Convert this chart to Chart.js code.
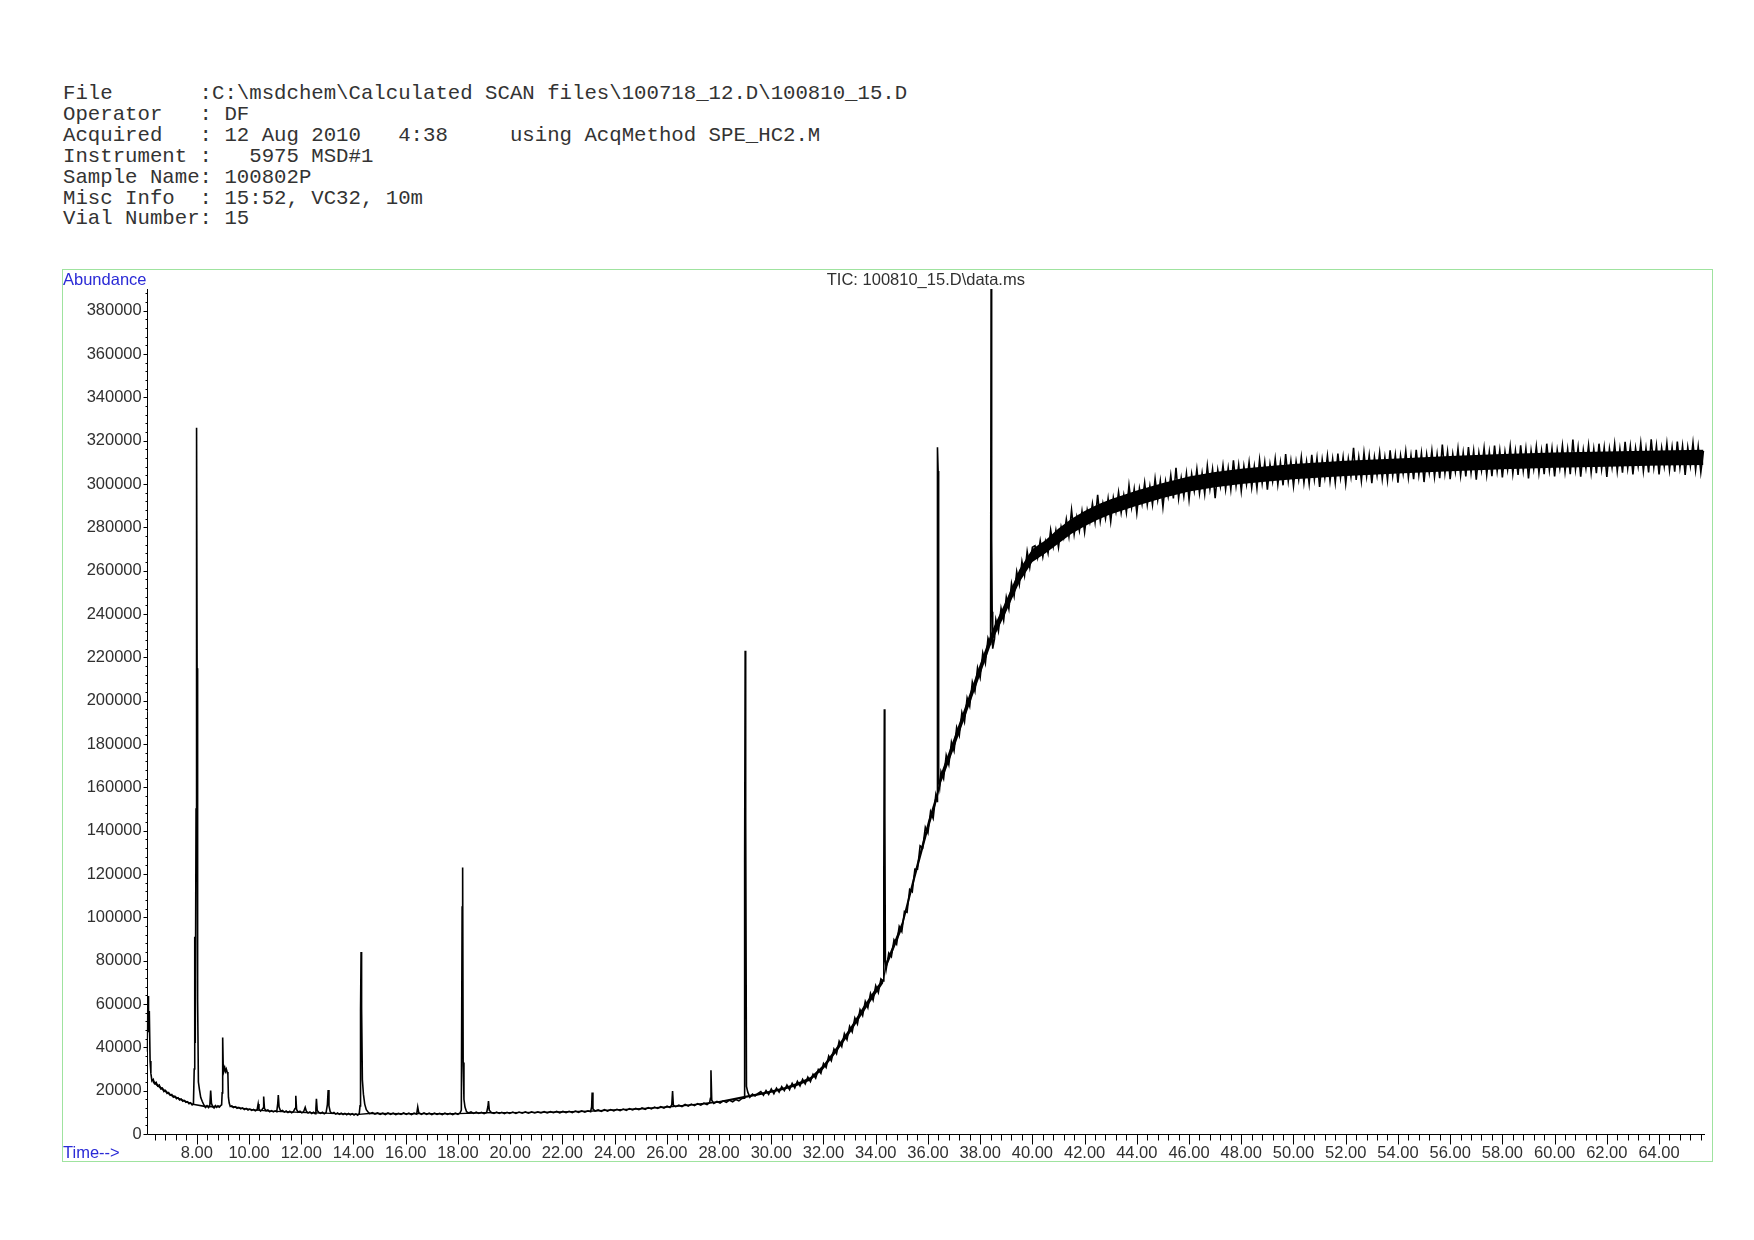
<!DOCTYPE html>
<html>
<head>
<meta charset="utf-8">
<title>TIC: 100810_15.D\data.ms</title>
<script src="https://cdn.jsdelivr.net/npm/chart.js@4.4.0/dist/chart.umd.min.js"></script>
<style>
  html, body { margin: 0; padding: 0; background: #fff; }
  body { width: 1754px; height: 1240px; position: relative; overflow: hidden; }
  #header {
    position: absolute; left: 63px; top: 84px; margin: 0;
    font-family: "Liberation Mono", "DejaVu Sans Mono", monospace;
    font-size: 20.7px; line-height: 20.9px; color: #333; white-space: pre;
  }
  #wrap { position: absolute; left: 0; top: 0; width: 1754px; height: 1240px; }
</style>
</head>
<body>
<pre id="header">File       :C:\msdchem\Calculated SCAN files\100718_12.D\100810_15.D
Operator   : DF
Acquired   : 12 Aug 2010   4:38     using AcqMethod SPE_HC2.M
Instrument :   5975 MSD#1
Sample Name: 100802P
Misc Info  : 15:52, VC32, 10m
Vial Number: 15</pre>
<div id="wrap"><canvas id="tic" width="1754" height="1240"></canvas></div>
<script>
// 軸の範囲と目盛り
const timeRange = [6.08, 65.76];
const abundanceRange = [0, 390000];
const timeTicks = [8, 10, 12, 14, 16, 18, 20, 22, 24, 26, 28, 30, 32, 34, 36, 38, 40, 42, 44, 46, 48, 50, 52, 54, 56, 58, 60, 62, 64];
const abundanceTicks = [0, 20000, 40000, 60000, 80000, 100000, 120000, 140000, 160000, 180000, 200000, 220000, 240000, 260000, 280000, 300000, 320000, 340000, 360000, 380000];

// TIC トレース [保持時間(min), アバンダンス] を読み取り値で
const earlyTrace = [
  [6.09,38000],[6.13,63700],[6.15,47000],[6.18,56800],[6.21,33700],[6.24,28000],[6.28,24500],[6.33,25200],[6.38,23300],[6.44,23900],
  [6.50,22100],[6.56,22600],[6.62,20800],[6.68,21200],[6.74,19600],[6.80,20100],[6.86,18700],[6.92,19100],[6.98,17900],[7.04,18200],
  [7.10,17000],[7.16,17400],[7.22,16300],[7.28,16700],[7.34,15700],[7.40,16100],[7.46,15100],[7.52,15500],[7.58,14600],[7.64,14900],
  [7.70,14000],[7.76,14400],[7.82,13400],[7.87,13800],[7.90,30000],[7.92,91000],[7.94,42000],[7.97,150000],[7.99,326000],[8.01,215000],
  [8.03,62000],[8.06,24000],[8.10,20500],[8.15,16800],[8.21,15000],[8.27,13400],[8.33,12300],[8.39,13100],[8.45,12200],[8.50,13500],
  [8.53,20100],[8.56,14200],[8.61,12600],[8.66,12000],[8.71,13100],[8.76,12300],[8.81,13000],[8.86,12400],[8.91,13100],[8.95,13500],
  [8.97,19000],[8.99,44500],[9.01,31500],[9.04,29200],[9.07,30600],[9.10,28900],[9.13,29900],[9.16,28600],[9.19,27400],[9.21,17000],
  [9.24,14300],[9.28,12700],[9.34,13000],[9.40,12200],[9.47,12600],[9.54,11900],[9.61,12300],[9.68,11600],[9.75,12000],[9.82,11300],
  [9.89,11800],[9.96,11100],[10.03,11500],[10.10,10900],[10.17,11300],[10.24,10700],[10.31,11200],[10.35,13900],[10.38,11400],[10.44,10600],
  [10.50,11300],[10.54,12000],[10.56,17300],[10.59,11800],[10.65,10700],[10.72,11100],[10.79,10300],[10.86,10800],[10.93,10200],[11.00,10700],
  [11.06,10300],[11.10,14200],[11.12,18000],[11.15,12400],[11.21,10500],[11.28,10900],[11.35,10100],[11.42,10600],[11.49,9900],[11.56,10500],
  [11.63,9800],[11.70,10300],[11.76,11800],[11.79,17600],[11.82,11300],[11.88,10100],[11.95,10500],[12.02,9800],[12.09,10300],[12.15,12300],
  [12.19,10600],[12.26,9700],[12.33,10200],[12.40,9500],[12.47,10000],[12.53,9400],[12.56,11800],[12.58,16300],[12.61,10900],[12.67,10000],
  [12.74,9500],[12.81,10000],[12.88,9300],[12.95,9900],[13.00,13500],[13.03,20300],[13.06,13000],[13.11,10200],[13.18,9500],[13.25,9900],
  [13.32,9200],[13.39,9700],[13.46,9100],[13.53,9600],[13.60,9000],[13.67,9500],[13.74,8900],[13.81,9500],[13.88,8900],[13.95,9400],
  [14.02,8800],[14.09,9300],[14.16,8700],[14.22,9400],[14.25,13000],[14.27,57000],[14.29,84000],[14.31,58300],[14.34,25000],[14.38,18400],
  [14.43,13800],[14.49,11200],[14.55,10300]
];

const midTrace = [
  [14.62,9400],[14.72,9900],[14.82,9200],[14.92,9700],[15.02,9100],[15.12,9600],[15.22,9000],[15.32,9700],[15.42,9100],[15.52,9600],
  [15.62,9000],[15.72,9500],[15.82,9100],[15.92,9700],[16.02,9100],[16.12,9600],[16.22,9000],[16.32,9600],[16.42,9200],[16.46,12500],
  [16.50,9800],[16.60,9100],[16.70,9700],[16.80,9100],[16.90,9600],[17.00,9000],[17.10,9600],[17.20,9100],[17.30,9500],[17.40,9000],
  [17.50,9600],[17.60,9100],[17.70,9500],[17.80,9000],[17.90,9600],[18.00,9100],[18.08,9700],[18.13,11000],[18.16,104800],[18.18,123000],
  [18.20,33000],[18.23,16000],[18.27,12400],[18.33,10300],[18.41,9700],[18.50,10200],[18.60,9500],[18.70,10100],[18.80,9500],[18.90,10000],
  [19.00,9400],[19.10,10000],[19.15,12800],[19.17,15200],[19.20,11000],[19.28,9900],[19.38,9500],[19.48,10100],[19.58,9500],[19.68,10000],
  [19.78,9400],[19.88,10000],[19.98,9500],[20.10,10100],[20.22,9500],[20.34,10100],[20.46,9600],[20.58,10200],[20.70,9600],[20.82,10200],
  [20.94,9700],[21.06,10200],[21.18,9700],[21.30,10300],[21.42,9700],[21.54,10300],[21.66,9800],[21.78,10400],[21.90,9800],[22.02,10400],
  [22.14,9900],[22.26,10500],[22.38,9900],[22.50,10600],[22.62,10000],[22.74,10700],[22.86,10100],[22.98,10700],[23.08,10300],[23.12,12500],
  [23.14,19100],[23.17,11600],[23.25,10600],[23.37,11100],[23.49,10500],[23.61,11200],[23.73,10600],[23.85,11300],[23.97,10700],[24.09,11400],
  [24.21,10800],[24.33,11500],[24.45,10900],[24.57,11700],[24.69,11100],[24.81,11800],[24.93,11200],[25.05,12000],[25.17,11400],[25.29,12200],
  [25.41,11600],[25.53,12400],[25.65,11800],[25.77,12600],[25.89,12000],[26.01,12800],[26.12,12200],[26.19,13500],[26.22,19800],[26.25,13300],
  [26.34,12600],[26.46,13300],[26.58,12700],[26.70,13600],[26.82,12900],[26.94,13800],[27.06,13100],[27.18,14000],[27.30,13300],[27.42,14200],
  [27.54,13600],[27.64,14500],[27.67,16500],[27.69,29400],[27.72,15600],[27.80,14100],[27.92,15000],[28.04,14300],[28.16,15300],[28.28,14600],
  [28.40,15600],[28.52,14900],[28.64,15900],[28.76,15300],[28.88,16400],[28.96,16500],[28.98,125500],[29.00,223000],[29.02,146000],[29.05,22000],
  [29.10,19300],[29.18,17000],[29.28,18400],[29.38,17500],[29.48,18600]
];

const riseTrace = [
  [29.6,19600],[29.7,17900],[29.8,20100],[29.9,18300],[30.0,20800],[30.1,18600],[30.2,21200],[30.3,19300],[30.4,21900],[30.5,20000],
  [30.6,22600],[30.7,20500],[30.8,23400],[30.9,21300],[31.0,24300],[31.1,22200],[31.2,25200],[31.3,23100],[31.4,26300],[31.5,24200],
  [31.6,27600],[31.7,25800],[31.8,29700],[31.9,28000],[32.0,32600],[32.1,30700],[32.2,36000],[32.3,33800],[32.4,39200],[32.5,37000],
  [32.6,42800],[32.7,40400],[32.8,46300],[32.9,43600],[33.0,49700],[33.1,47100],[33.2,53600],[33.3,50800],[33.4,57400],[33.5,54700],
  [33.6,61200],[33.7,58300],[33.8,64900],[33.9,61800],[34.0,68400],[34.1,65300],[34.2,71600],[34.28,70600],[34.31,120000],[34.33,196000],
  [34.35,147700],[34.37,80000],[34.4,76000],[34.5,83500],[34.6,81800],[34.7,89600],[34.8,87600],[34.9,95800],[35.0,93400],[35.1,102800],
  [35.2,102300],[35.3,112900],[35.4,111800],[35.5,122300],[35.6,122200],[35.7,133000],[35.8,132100],[35.9,141600],[36.0,138900],[36.1,148800],
  [36.2,145700],[36.3,156400],[36.35,153500],[36.36,160000],[36.37,317000],[36.39,306000],[36.41,163000],[36.45,159800],[36.5,167300],[36.6,164000],
  [36.7,174800],[36.8,170500],[36.9,180900],[37.0,176800],[37.1,187700],[37.2,183900],[37.3,194600],[37.4,190200],[37.5,201300],[37.6,197400],
  [37.7,208600],[37.8,204300],[37.9,215200],[38.0,210600],[38.1,222100],[38.2,217200],[38.3,228800],[38.38,226000],[38.40,232000],[38.42,400000],
  [38.44,274600],[38.46,241000],[38.48,224000],[38.55,228500],[38.6,237400],[38.7,232100],[38.8,242700],[38.9,237000],[39.0,247800],[39.1,242300],
  [39.2,254100],[39.3,248300],[39.4,259600],[39.5,253600],[39.6,264300],[39.7,257800],[39.8,268900],[39.9,261600],[40.0,270800]
];

const plateauTrace = [
  [40.1,271500],[40.2,266000],[40.3,273900],[40.4,266400],[40.5,273500],[40.6,268100],[40.7,278800],[40.8,271200],[40.9,278600],[41.0,270800],
  [41.1,280200],[41.2,275300],[41.3,283700],[41.4,275800],[41.5,288000],[41.6,276800],[41.7,284800],[41.8,278400],[41.9,287400],[42.0,277800],
  [42.1,288000],[42.2,282500],[42.3,290900],[42.4,282400],[42.5,295000],[42.6,282900],[42.7,291000],[42.8,284100],[42.9,293300],[43.0,282700],
  [43.1,293700],[43.2,287200],[43.3,296200],[43.4,286800],[43.5,294900],[43.6,286900],[43.7,299400],[43.8,289200],[43.9,297700],[44.0,286600],
  [44.1,297900],[44.2,290900],[44.3,300600],[44.4,290400],[44.5,299100],[44.6,290500],[44.7,302500],[44.8,292700],[44.9,301500],[45.0,289400],
  [45.1,301200],[45.2,294300],[45.3,304000],[45.4,293300],[45.5,307500],[45.6,293400],[45.7,302800],[45.8,294400],[45.9,304900],[46.0,292800],
  [46.1,304600],[46.2,296800],[46.3,306900],[46.4,295700],[46.5,305000],[46.6,295400],[46.7,308400],[46.8,297700],[46.9,306800],[47.0,293500],
  [47.1,306400],[47.2,298900],[47.3,308600],[47.4,297600],[47.5,307400],[47.6,297500],[47.7,310900],[47.8,299200],[47.9,308700],[48.0,296800],
  [48.1,308200],[48.2,299900],[48.3,310000],[48.4,298400],[48.5,308100],[48.6,298100],[48.7,311100],[48.8,300400],[48.9,310000],[49.0,297400],
  [49.1,309100],[49.2,301300],[49.3,311600],[49.4,299800],[49.5,310000],[49.6,299400],[49.7,313800],[49.8,301300],[49.9,310700],[50.0,299100],
  [50.1,310300],[50.2,302000],[50.3,312400],[50.4,300500],[50.5,310300],[50.6,300100],[50.7,313500],[50.8,302100],[50.9,312000],[51.0,298700],
  [51.1,311300],[51.2,302900],[51.3,313000],[51.4,301400],[51.5,311500],[51.6,300700],[51.7,314000],[51.8,302900],[51.9,312400],[52.0,300200],
  [52.1,311600],[52.2,303500],[52.3,316700],[52.4,301900],[52.5,312400],[52.6,301500],[52.7,314500],[52.8,303500],[52.9,313200],[53.0,300400],
  [53.1,312400],[53.2,304000],[53.3,314400],[53.4,302300],[53.5,312300],[53.6,301800],[53.7,315500],[53.8,303800],[53.9,313400],[54.0,300600],
  [54.1,313100],[54.2,304800],[54.3,315100],[54.4,303000],[54.5,313100],[54.6,302200],[54.7,315800],[54.8,304200],[54.9,314200],[55.0,300900],
  [55.1,313600],[55.2,305200],[55.3,315400],[55.4,303300],[55.5,313700],[55.6,302700],[55.7,318200],[55.8,305000],[55.9,314900],[56.0,302200],
  [56.1,313900],[56.2,305600],[56.3,316300],[56.4,304000],[56.5,314500],[56.6,303500],[56.7,317000],[56.8,305200],[56.9,315300],[57.0,302000],
  [57.1,314400],[57.2,306300],[57.3,316600],[57.4,304200],[57.5,314800],[57.6,303600],[57.7,317700],[57.8,305900],[57.9,315600],[58.0,303000],
  [58.1,314900],[58.2,306600],[58.3,317300],[58.4,304800],[58.5,315300],[58.6,304200],[58.7,317800],[58.8,306100],[58.9,316300],[59.0,302600],
  [59.1,315400],[59.2,306900],[59.3,317300],[59.4,305100],[59.5,315300],[59.6,304500],[59.7,318600],[59.8,306400],[59.9,316400],[60.0,303500],
  [60.1,315600],[60.2,307300],[60.3,317800],[60.4,305600],[60.5,316000],[60.6,304500],[60.7,320500],[60.8,306800],[60.9,316900],[61.0,303400],
  [61.1,315700],[61.2,307300],[61.3,317800],[61.4,305300],[61.5,316100],[61.6,305000],[61.7,318600],[61.8,306900],[61.9,316900],[62.0,303300],
  [62.1,316200],[62.2,307700],[62.3,318500],[62.4,305900],[62.5,316200],[62.6,305200],[62.7,319500],[62.8,307300],[62.9,317400],[63.0,304400],
  [63.1,316600],[63.2,308200],[63.3,318900],[63.4,306000],[63.5,316400],[63.6,305300],[63.7,320600],[63.8,307700],[63.9,317700],[64.0,304400],
  [64.1,316600],[64.2,308100],[64.3,318800],[64.4,306500],[64.5,317000],[64.6,305700],[64.7,319600],[64.8,307600],[64.9,317600],[65.0,304200],
  [65.1,316900],[65.2,308400],[65.3,319100],[65.4,306500],[65.5,317300],[65.6,305400],[65.7,315300]
];

// ノイズ帯の芯 [保持時間(min), 下端, 上端] (図から読んだ黒い帯の幅)
const earlyBand = [
  [6.30,23800,25000],[6.60,20900,22000],[7.00,17500,18500],[7.40,15500,16300],[7.85,13400,14100],[8.30,12300,13100],
  [8.60,12200,13000],[8.90,12300,13000]
];

const noiseBand = [
  [9.3,12300,13100],[9.7,11500,12200],[10.2,10800,11400],[10.8,10300,10900],[11.5,9900,10500],[12.2,9600,10200],
  [12.9,9300,9900],[13.6,9000,9600],[14.2,8800,9400],[14.6,9100,9800],[16.0,9100,9700],[18.0,9100,9700],
  [19.0,9500,10100],[20.0,9600,10200],[21.0,9800,10300],[22.0,9900,10500],[23.0,10200,10800],[24.0,10800,11400],
  [25.0,11300,12000],[26.0,12100,12800],[27.0,13100,13900],[28.0,14400,15200],[29.0,16600,17600],
  [29.5,17800,18800],[30.0,19000,20100],[30.5,20400,21600],[31.0,22300,23700],[31.5,24700,26300],[32.0,30000,32000],
  [32.5,37800,40200],[33.0,46300,48700],[33.5,55600,58400],[34.0,64600,67400],[34.28,69500,71700],[34.4,76500,79500],
  [35.0,94300,97700],[35.5,117500,121500],[36.0,139800,144200],[36.35,154000,158000],[36.5,162000,166500],[37.0,178000,183000],
  [37.5,195000,200000],[38.0,211800,217200],[38.4,225500,230500],[38.5,228500,233500],[39.0,241000,246500],[39.5,254500,260500],
  [40.0,264000,270000],[40.5,268000,274000],[41.0,272500,279500],[41.5,277000,284000],[42.0,280500,287500],[42.5,283500,290500],
  [43.0,286000,293000],[44.0,290000,297000],[45.0,293500,300500],[46.0,296500,303500],[47.0,298500,305500],[48.0,300000,307000],
  [49.0,301200,308200],[50.0,302200,309200],[52.0,303700,310700],[54.0,304800,311800],[56.0,305900,312900],[58.0,306800,313800],
  [60.0,307500,314500],[62.0,308000,315000],[64.0,308500,315500],[65.7,308800,315800]
];

const ticTrace = [].concat(earlyTrace, midTrace, riseTrace, plateauTrace);

const labelFont = { family: '"Liberation Sans", Arial, sans-serif', size: 16.5 };
const textGray = '#303030';
const labelBlue = '#2a2ad6';

// 帯の下端・上端のデータセットを作る
function bandDatasets(band) {
  return [
    { data: band.map(b => ({ x: b[0], y: b[1] })), borderWidth: 0, pointRadius: 0, fill: false, order: 2 },
    { data: band.map(b => ({ x: b[0], y: b[2] })), borderWidth: 0, pointRadius: 0, backgroundColor: '#000', fill: '-1', order: 1 }
  ];
}

// 枠・軸線・小目盛り・見出しを描くプラグイン
const axisDecor = {
  id: 'axisDecor',
  afterDraw(chart) {
    const { ctx, chartArea: a, scales: { x, y } } = chart;
    ctx.save();

    // 緑の枠
    ctx.strokeStyle = '#9fe39f';
    ctx.lineWidth = 1;
    ctx.strokeRect(62.5, 269.5, 1650, 892);

    // 軸線
    ctx.strokeStyle = '#000';
    const ax = Math.round(a.left) + 0.5;
    const ay = Math.round(a.bottom) + 0.5;
    ctx.beginPath();
    ctx.moveTo(ax, a.top);
    ctx.lineTo(ax, ay);
    ctx.lineTo(a.right, ay);
    ctx.stroke();

    // Y 目盛り (4000 ごと)
    ctx.beginPath();
    for (let i = 0; i * 4000 <= abundanceRange[1]; i++) {
      const py = Math.round(y.getPixelForValue(i * 4000)) + 0.5;
      const len = (i % 5 === 0) ? 4 : 2;
      ctx.moveTo(ax - len, py);
      ctx.lineTo(ax, py);
    }
    ctx.stroke();

    // X 目盛り (0.4 分ごと)
    ctx.beginPath();
    for (let i = 16; i * 0.4 <= timeRange[1]; i++) {
      const px = Math.round(x.getPixelForValue(i * 0.4)) + 0.5;
      const len = (i % 5 === 0) ? 10 : 6;
      ctx.moveTo(px, ay);
      ctx.lineTo(px, ay + len);
    }
    ctx.stroke();

    // ラベル
    ctx.font = labelFont.size + 'px ' + labelFont.family;
    ctx.textBaseline = 'middle';
    ctx.fillStyle = labelBlue;
    ctx.textAlign = 'left';
    ctx.fillText('Abundance', 63, 280.5);
    ctx.fillText('Time-->', 63, 1153);
    ctx.fillStyle = textGray;
    ctx.textAlign = 'center';
    ctx.fillText('TIC: 100810_15.D\\data.ms', (a.left + a.right) / 2, 280.5);

    ctx.restore();
  }
};

const chart = new Chart(document.getElementById('tic'), {
  type: 'line',
  data: {
    datasets: [
      ...bandDatasets(earlyBand),
      ...bandDatasets(noiseBand),
      {
        data: ticTrace.map(p => ({ x: p[0], y: p[1] })),
        borderColor: '#000',
        borderWidth: 1.6,
        pointRadius: 0,
        tension: 0,
        fill: false,
        order: 0
      }
    ]
  },
  options: {
    responsive: false,
    animation: false,
    events: [],
    layout: { padding: { top: 289, left: 0, right: 49, bottom: 66 } },
    plugins: {
      legend: { display: false },
      tooltip: { enabled: false },
      title: { display: false },
      filler: { propagate: false }
    },
    scales: {
      x: {
        type: 'linear',
        min: timeRange[0],
        max: timeRange[1],
        grid: { display: false, drawTicks: false },
        border: { display: false },
        afterBuildTicks: s => { s.ticks = timeTicks.map(v => ({ value: v })); },
        afterFit: s => { s.height = 40; },
        ticks: {
          autoSkip: false, maxRotation: 0, padding: 9.5,
          color: textGray, font: labelFont,
          callback: v => Number(v).toFixed(2)
        }
      },
      y: {
        type: 'linear',
        min: abundanceRange[0],
        max: abundanceRange[1],
        grid: { display: false, drawTicks: false },
        border: { display: false },
        afterBuildTicks: s => { s.ticks = abundanceTicks.map(v => ({ value: v })); },
        afterFit: s => { s.width = 146.7; },
        ticks: {
          autoSkip: false, padding: 5,
          color: textGray, font: labelFont,
          callback: v => String(v)
        }
      }
    }
  },
  plugins: [axisDecor]
});
</script>
</body>
</html>
